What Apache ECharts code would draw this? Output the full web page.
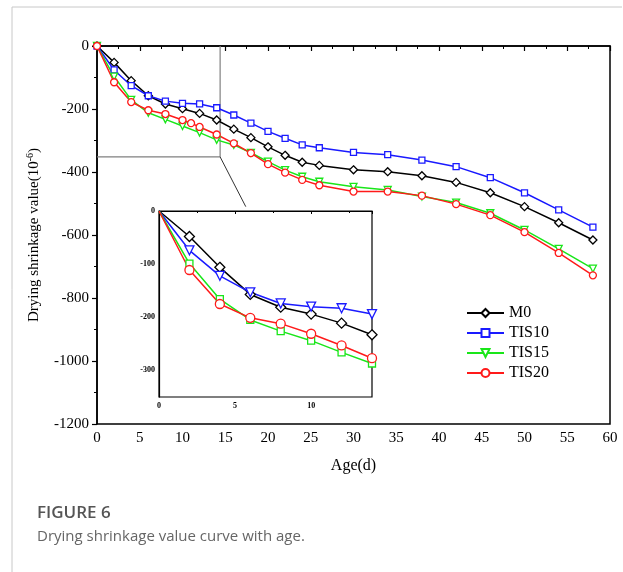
<!DOCTYPE html>
<html>
<head>
<meta charset="utf-8">
<script src="https://cdn.jsdelivr.net/npm/echarts@6/dist/echarts.min.js"></script>
<style>
  html, body { margin: 0; padding: 0; background: #fff; }
  #chart { width: 623px; height: 572px; }
</style>
</head>
<body>
<div id="chart"></div>
<script>
// main chart: age (d) and drying shrinkage (10^-6)
const ages = [0, 2, 4, 6, 8, 10, 12, 14, 16, 18, 20, 22, 24, 26, 30, 34, 38, 42, 46, 50, 54, 58];
const agesTIS20 = [0, 2, 4, 6, 8, 10, 11, 12, 14, 16, 18, 20, 22, 24, 26, 30, 34, 38, 42, 46, 50, 54, 58];
const m0 = [0, -52, -110, -158, -184, -199, -214, -235, -264, -291, -320, -347, -369, -379, -393, -399, -412, -433, -466, -510, -561, -616];
const tis10 = [0, -76, -126, -158, -175, -182, -184, -196, -219, -245, -271, -293, -314, -323, -338, -345, -362, -383, -418, -466, -520, -575];
const tis15 = [0, -97, -171, -212, -233, -254, -275, -298, -314, -339, -367, -394, -415, -431, -447, -457, -478, -497, -531, -584, -644, -707];
const tis20 = [0, -115, -178, -204, -216, -235, -245, -257, -281, -309, -340, -375, -402, -425, -442, -462, -462, -475, -502, -537, -591, -657, -728];

// inset (first 14 days)
const insetAges = [0, 2, 4, 6, 8, 10, 12, 14];
const insetM0 = [0, -48, -106, -157, -181, -194, -211, -233];
const insetTIS10 = [0, -74, -122, -153, -174, -180, -183, -194];
const insetTIS15 = [0, -99, -166, -205, -226, -244, -266, -287];
const insetTIS20 = [0, -111, -175, -201, -212, -231, -253, -277];
const insetYTicks = [0, -100, -200, -300];

const seriesNames = ['M0', 'TIS10', 'TIS15', 'TIS20'];
const zoomBox = [[0, -352], [14.4, -352], [14.4, 0]];

const BLACK = '#000000', BLUE = '#1a1aff', GREEN = '#19e619', RED = '#ff1a1a';
const serif = '"Liberation Serif", "DejaVu Serif", serif';

const pairs = (xs, ys) => xs.map((x, i) => [x, ys[i]]);
// inset: no marker on the origin point (keeps the "0" label readable)
const insetPairs = (xs, ys) => xs.map((x, i) => (i === 0 ? { value: [x, ys[i]], symbol: 'none' } : [x, ys[i]]));

function lineSeries(name, data, color, symbol, size, grid, extra) {
    return Object.assign({
        name: name,
        type: 'line',
        xAxisIndex: grid,
        yAxisIndex: grid,
        data: data,
        symbol: symbol,
        symbolSize: size,
        showAllSymbol: true,
        lineStyle: { color: color, width: 1.5 },
        itemStyle: { color: '#fff', borderColor: color, borderWidth: 1.3 },
        emphasis: { disabled: true },
        animation: false
    }, extra || {});
}

const chart = echarts.init(document.getElementById('chart'));

const option = {
    backgroundColor: '#fff',
    animation: false,
    legend: {
        data: seriesNames,
        orient: 'vertical',
        left: 466,
        top: 305,
        itemWidth: 37,
        itemHeight: 10,
        itemGap: 4,
        textStyle: { fontFamily: serif, fontSize: 16, color: '#000', lineHeight: 16 },
        padding: 0
    },
    grid: [
        { left: 97, top: 46, right: 13, bottom: 148, show: true, borderColor: '#000', borderWidth: 1.5, backgroundColor: 'transparent' },
        { left: 159, top: 211, right: 251, bottom: 175, show: true, borderColor: '#000', borderWidth: 1.2, backgroundColor: '#fff', z: 5 }
    ],
    xAxis: [
        {
            type: 'value', gridIndex: 0, min: 0, max: 60, interval: 5,
            name: 'Age(d)', nameLocation: 'middle', nameGap: 34,
            nameTextStyle: { fontFamily: serif, fontSize: 16, color: '#000' },
            axisLine: { lineStyle: { color: '#000', width: 1.5 } },
            axisTick: { inside: false, length: 5, lineStyle: { color: '#000', width: 1.2 } },
            minorTick: { show: true, splitNumber: 2, length: 3, lineStyle: { color: '#000' } },
            axisLabel: { fontFamily: serif, fontSize: 15, color: '#000', margin: 7 },
            splitLine: { show: false }
        },
        {
            type: 'value', gridIndex: 1, min: 0, max: 14, interval: 5,
            axisLine: { lineStyle: { color: '#000', width: 1.2 } },
            axisTick: { inside: false, length: 3, lineStyle: { color: '#000' } },
            minorTick: { show: true, splitNumber: 2, length: 2, lineStyle: { color: '#000' } },
            axisLabel: { fontFamily: serif, fontSize: 8, fontWeight: 'bold', color: '#000', margin: 5, showMaxLabel: false },
            splitLine: { show: false },
            z: 6
        }
    ],
    yAxis: [
        {
            type: 'value', gridIndex: 0, min: -1200, max: 0, interval: 200,
            name: 'Drying shrinkage value(10{sup|-6})', nameLocation: 'middle', nameGap: 54,
            nameTextStyle: {
                fontFamily: serif, fontSize: 15, color: '#000',
                rich: { sup: { fontFamily: serif, fontSize: 10, color: '#000', verticalAlign: 'top', padding: [0, 0, 8, 0] } }
            },
            axisLine: { show: true, lineStyle: { color: '#000', width: 1.5 } },
            axisTick: { inside: false, length: 5, lineStyle: { color: '#000', width: 1.2 } },
            minorTick: { show: true, splitNumber: 2, length: 3, lineStyle: { color: '#000' } },
            axisLabel: { fontFamily: serif, fontSize: 15, color: '#000', margin: 8, formatter: v => String(v) },
            splitLine: { show: false }
        },
        {
            type: 'value', gridIndex: 1, min: -350, max: 0, interval: 50,
            axisLine: { show: true, lineStyle: { color: '#000', width: 1.2 } },
            axisTick: { show: false },
            axisLabel: {
                fontFamily: serif, fontSize: 8, fontWeight: 'bold', color: '#000', margin: 4,
                customValues: insetYTicks, showMaxLabel: true, showMinLabel: true, hideOverlap: false,
                formatter: v => String(Math.round(v))
            },
            splitLine: { show: false },
            z: 6
        }
    ],
    series: [
        {
            name: 'zoom-box', type: 'line', xAxisIndex: 0, yAxisIndex: 0,
            data: zoomBox, symbol: 'none', silent: true,
            lineStyle: { color: '#808080', width: 1.2 },
            z: 1,
            markLine: {
                silent: true, animation: false,
                symbol: ['none', 'arrow'], symbolSize: [0, 9],
                lineStyle: { color: '#333', width: 1, type: 'solid' },
                label: { show: false },
                data: [[{ coord: [14.4, -352] }, { coord: [17.4, -510] }]]
            }
        },
        lineSeries('M0', pairs(ages, m0), BLACK, 'diamond', 8, 0),
        lineSeries('TIS10', pairs(ages, tis10), BLUE, 'rect', 6, 0),
        lineSeries('TIS15', pairs(ages, tis15), GREEN, 'triangle', 7, 0, { symbolRotate: 180 }),
        lineSeries('TIS20', pairs(agesTIS20, tis20), RED, 'circle', 7, 0),
        lineSeries('inset-M0', insetPairs(insetAges, insetM0), BLACK, 'diamond', 10, 1, { z: 6 }),
        lineSeries('inset-TIS10', insetPairs(insetAges, insetTIS10), BLUE, 'triangle', 9, 1, { symbolRotate: 180, z: 6 }),
        lineSeries('inset-TIS15', insetPairs(insetAges, insetTIS15), GREEN, 'rect', 7, 1, { z: 6 }),
        lineSeries('inset-TIS20', insetPairs(insetAges, insetTIS20), RED, 'circle', 9, 1, { z: 6 })
    ],
    graphic: [
        { type: 'line', shape: { x1: 12, y1: 7, x2: 12, y2: 572 }, style: { stroke: '#c8c8c8', lineWidth: 1 }, silent: true },
        { type: 'line', shape: { x1: 12, y1: 7, x2: 622, y2: 7 }, style: { stroke: '#c8c8c8', lineWidth: 1 }, silent: true },
        {
            type: 'text', left: 37, top: 505, silent: true,
            style: { text: 'FIGURE 6', font: '600 17px "Open Sans", sans-serif', fill: '#555' }
        },
        {
            type: 'text', left: 37, top: 529, silent: true,
            style: { text: 'Drying shrinkage value curve with age.', font: '15px "Open Sans", sans-serif', fill: '#666' }
        }
    ]
};

chart.setOption(option);
</script>
</body>
</html>
